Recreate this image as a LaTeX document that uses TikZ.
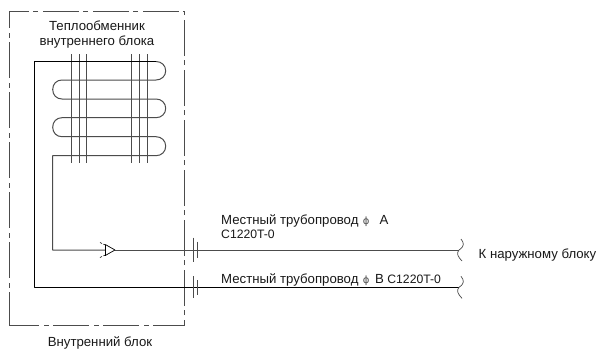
\documentclass[tikz,border=0pt]{standalone}
\usepackage{fontspec}
\setmainfont{Liberation Sans}
\newfontfamily\phifont{DejaVu Sans}
\newcommand{\labsize}{\fontsize{13.2}{14.5}\selectfont}
\newcommand{\phimark}{{\phifont\fontsize{10}{10}\selectfont\textcolor{black!70}{ϕ}}}
\tikzset{
  pipe/.style={draw=black,line width=1pt},
  thinpipe/.style={draw=black!70,line width=1pt},
  fin/.style={draw=black!70,line width=0.7pt},
  unitbox/.style={draw=black!70,line width=0.7pt,dash pattern=on 36pt off 5pt on 5pt off 4pt,dash phase=6pt},
  lab/.style={font=\labsize,inner sep=0pt,text=black!90},
}
\begin{document}
\begin{tikzpicture}[x=1pt,y=-1pt]
\useasboundingbox (0,0) rectangle (603,351);
\fill[white] (0,0) rectangle (603,351);
\draw[unitbox] (9.3,325) -- (184.3,325) -- (184.3,11.7) -- (9.3,11.7) -- cycle;
\node[lab,align=center] (hx) at (97,34.5) {Теплообменник\\внутреннего блока};
\node[lab] (iu) at (100,343) {Внутренний блок};
\foreach \x in {71.7,79.3,86.3,131.7,139.3,147} \draw[fin] (\x,54) -- (\x,163.3);
\coordinate (a1) at (34.3,61.5);
\coordinate (a2) at (34.3,287.3);
\coordinate (a3) at (459,287.3);
\draw[thinpipe,line join=round] (156,61.5)
  .. controls (161.5,61.5) and (165.7,65.5) .. (165.7,70.8) .. controls (165.7,76) and (161.5,80) .. (156,80)
  -- (62,80)
  .. controls (56.5,80) and (52.7,84) .. (52.7,89.5) .. controls (52.7,95) and (56.5,99) .. (62,99)
  -- (156,99)
  .. controls (161.5,99) and (165.7,103) .. (165.7,108.4) .. controls (165.7,113.7) and (161.5,117.7) .. (156,117.7)
  -- (62,117.7)
  .. controls (56.5,117.7) and (52.7,121.7) .. (52.7,127.2) .. controls (52.7,132.7) and (56.5,136.7) .. (62,136.7)
  -- (156,136.7)
  .. controls (161.5,136.7) and (165.7,140.7) .. (165.7,146.2) .. controls (165.7,151.7) and (161.5,155.7) .. (156,155.7)
  -- (52.7,155.7) -- (52.7,250) -- (105,250);
\draw[pipe,line join=round] (a3) -- (a2) -- (a1) -- (156,61.5);
\coordinate (v) at (115,250);
\coordinate (b3) at (459,250);
\draw[thinpipe] (v) -- (b3);
\draw[draw=black,line width=0.7pt,line join=round] (105.3,244.5) -- (v) -- (105.3,255.5);
\draw[draw=black,line width=1.3pt] (105.3,244.5) -- (105.3,255.5);
\draw[draw=black,line width=0.6pt] (100,242.5) -- (102,243.5) (103.5,244.2) -- (105.3,245) (100,257.5) -- (102,256.5) (103.5,255.8) -- (105.3,255);
\draw[fin] (193.7,237.7) -- (193.7,261.7);
\draw[fin] (197.7,241.7) -- (197.7,257.7);
\draw[fin] (193.7,276) -- (193.7,298);
\draw[fin] (197.7,280) -- (197.7,295);
\foreach \y in {0,37.3}{
  \draw[fin,yshift=-\y pt] (461,239) .. controls (464,243) and (465,246) .. (459,250) .. controls (456,253) and (458,257) .. (462,261);
}
\node[lab,anchor=base west] (m1) at (221,224.5) {Местный трубопровод\hspace{4.5pt}\phimark\hspace{10pt}A};
\node[lab,anchor=base west,font=\fontsize{12.2}{13}\selectfont] (c1) at (221,238) {C1220T-0};
\node[lab,anchor=base west] (m2) at (221,283) {Местный трубопровод\hspace{4.5pt}\phimark\hspace{5.5pt}B\hspace{3.5pt}{\fontsize{12.2}{13}\selectfont C1220T-0}};
\node[lab,anchor=base west] (out) at (478.5,258) {К наружному блоку};
\end{tikzpicture}
\end{document}
